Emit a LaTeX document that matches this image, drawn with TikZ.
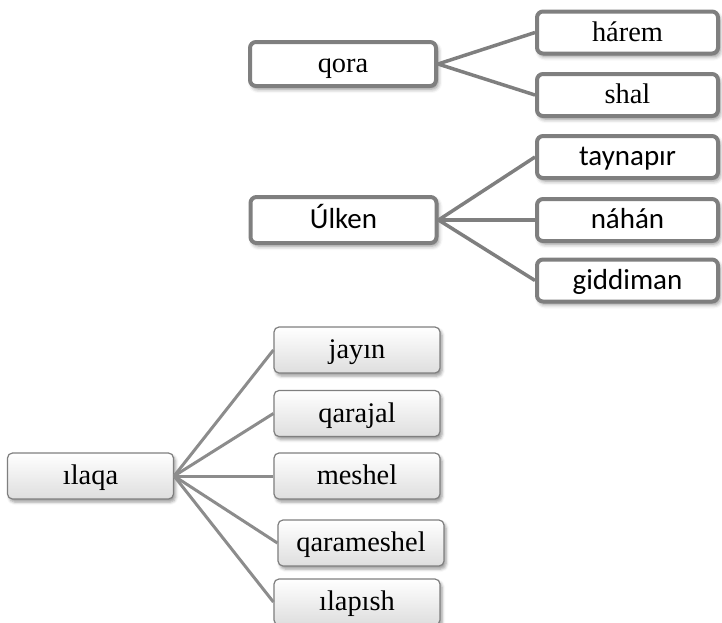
\documentclass[tikz,border=0pt]{standalone}
\usepackage{fontspec}
\setmainfont{Liberation Serif}
\newfontfamily\calibrifont{Carlito}
\usetikzlibrary{shadows.blur}
\definecolor{framegrey}{RGB}{127,127,127}
\definecolor{linkgrey}{RGB}{140,140,140}
\definecolor{shadegrey}{RGB}{222,222,222}
\begin{document}
\begin{tikzpicture}[x=0.5pt,y=-0.5pt,
  every node/.style={font=\fontsize{14.2}{16}\selectfont, inner sep=0pt,
    text height=11pt, text depth=2.5pt},
  heavybox/.style={draw=framegrey, line width=2pt, rounded corners=3pt, fill=white,
    minimum width=90.5pt, minimum height=21pt,
    blur shadow={shadow xshift=1pt, shadow yshift=-1.5pt, shadow blur radius=2pt, shadow opacity=45}},
  parentbox/.style={heavybox, minimum width=93pt, minimum height=22pt},
  sansbox/.style={font=\calibrifont\fontsize{14.5}{16}\selectfont},
  softbox/.style={draw=framegrey, line width=0.6pt, rounded corners=2.5pt,
    top color=white, bottom color=shadegrey,
    minimum width=83pt, minimum height=23pt,
    blur shadow={shadow xshift=1pt, shadow yshift=-1.5pt, shadow blur radius=1.5pt, shadow opacity=40}},
  heavylink/.style={draw=framegrey, line width=1.75pt},
  softlink/.style={draw=linkgrey, line width=1.5pt},
]
\useasboundingbox (0,0) rectangle (722,622);

% first group
\node[parentbox] (qora) at (343,64) {qora};
\node[heavybox] (harem) at (627.5,32.5) {hárem};
\node[heavybox] (shal) at (627.5,95) {shal};
\draw[heavylink] (qora.east) -- (harem.west);
\draw[heavylink] (qora.east) -- (shal.west);

% second group
\node[parentbox, sansbox, minimum height=23pt] (ulken) at (343.5,220) {Úlken};
\node[heavybox, sansbox] (tayn) at (627.5,157) {taynapır};
\node[heavybox, sansbox] (nahan) at (627.5,220) {náhán};
\node[heavybox, sansbox] (gidd) at (627.5,280.5) {giddiman};
\draw[heavylink] (ulken.east) -- (tayn.west);
\draw[heavylink] (ulken.east) -- (nahan.west);
\draw[heavylink] (ulken.east) -- (gidd.west);

% third group
\node[softbox] (ilaqa) at (90.5,476) {ılaqa};
\node[softbox] (jayin) at (357,350) {jayın};
\node[softbox] (qarajal) at (357,413.5) {qarajal};
\node[softbox] (meshel) at (357,476) {meshel};
\node[softbox] (qaram) at (361,543) {qarameshel};
\node[softbox] (ilap) at (357,602) {ılapısh};
\foreach \c in {jayin,qarajal,meshel,qaram,ilap}
  \draw[softlink] (ilaqa.east) -- (\c.west);
\end{tikzpicture}
\end{document}
